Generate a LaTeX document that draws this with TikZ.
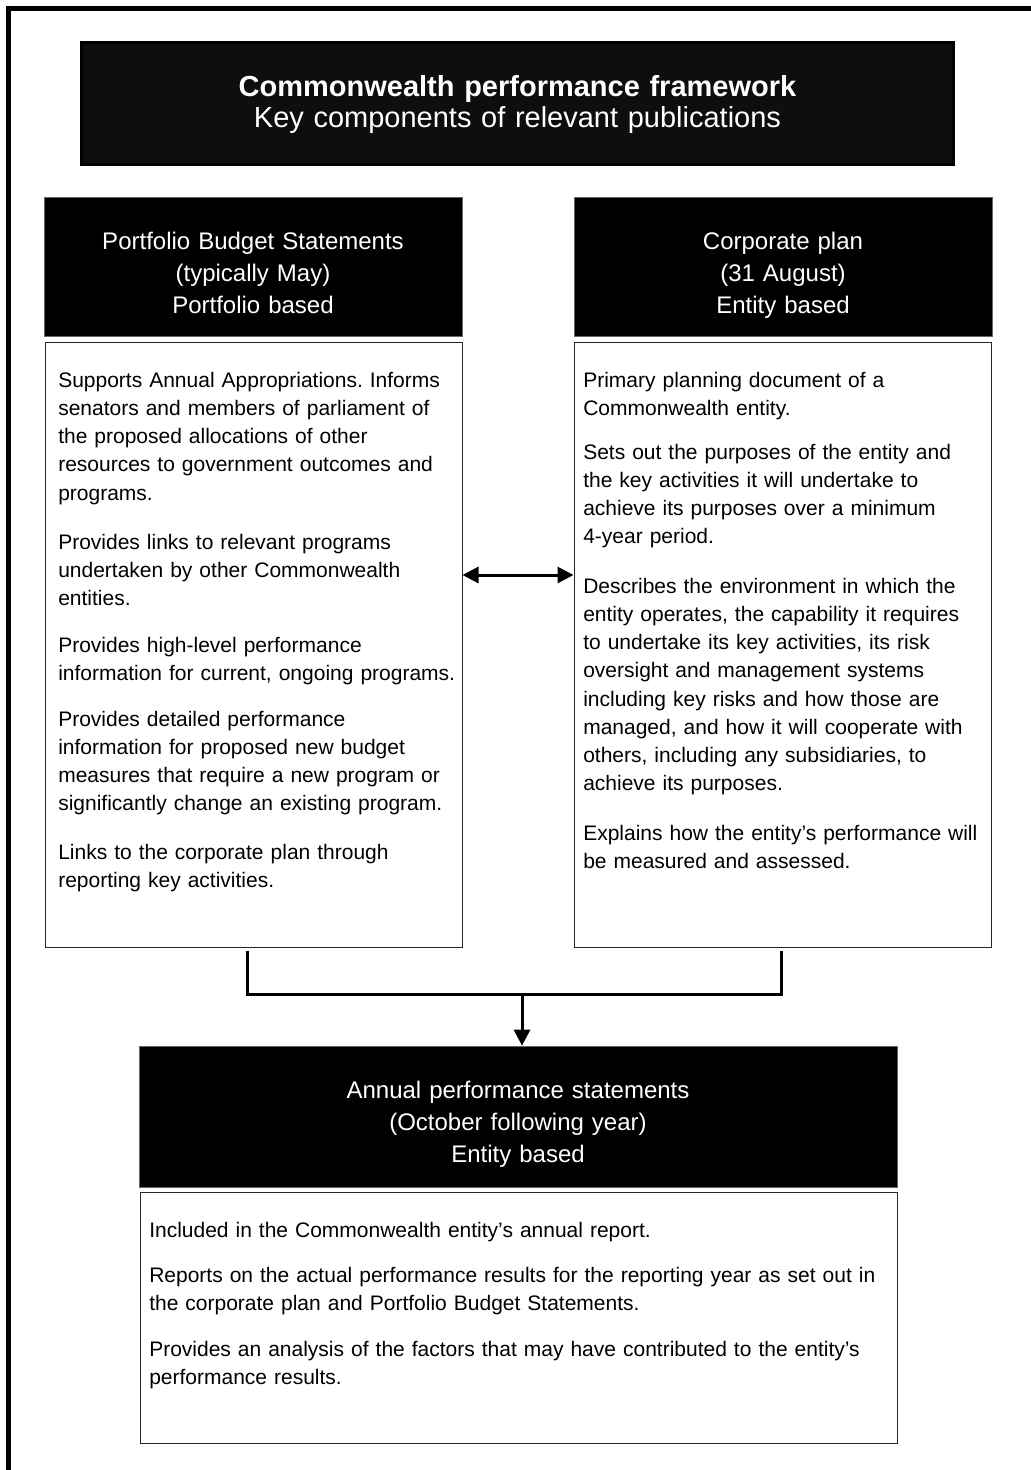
\documentclass[tikz,border=0pt]{standalone}
\usepackage{fontspec}
\setmainfont{Liberation Sans}
\frenchspacing
\usetikzlibrary{arrows.meta}
\definecolor{titlefill}{RGB}{14,14,14}
\tikzset{
  frame/.style={line width=3.5pt, black},
  hdrbox/.style={fill=black, draw=black!60, line width=0.5pt, inner sep=0pt},
  hdrtext/.style={anchor=base, text=white, inner sep=0pt, align=center, text width=420pt, font=\fontsize{18pt}{24pt}\selectfont},
  bodybox/.style={draw=black!85, line width=0.75pt, fill=white, inner sep=0pt},
  para/.style={anchor=base west, inner sep=0pt, align=left, text width=560pt, font=\fontsize{15.75pt}{21.2pt}\selectfont},
  conn/.style={line width=2.25pt, black},
  tip/.tip={Triangle[length=12pt,width=12pt]},
  arr/.style={conn, -tip},
  darr/.style={conn, tip-tip},
}
\begin{document}
\begin{tikzpicture}[x=0.75pt,y=-0.75pt]
\useasboundingbox (0,0) rectangle (1031,1470);
\fill[white] (0,0) rectangle (1031,1470);
% outer frame (partly cut)
\draw[frame] (8.5,1470) -- (8.5,8.5) -- (1031,8.5);

% title
\node[fill=titlefill, draw=black, line width=2.25pt, minimum width=654pt, minimum height=91.5pt, inner sep=0pt] (title) at (517.5,103.5) {};
\node[anchor=base, text=white, inner sep=0pt, align=center, text width=640pt, font=\fontsize{21.75pt}{24pt}\selectfont] (titletext) at (517.5,96)
  {{\bfseries Commonwealth performance framework}\\Key components of relevant publications};

% Portfolio Budget Statements
\node[hdrbox, minimum width=313.5pt, minimum height=104.25pt] (pbshead) at (253,266.5) {};
\node[hdrtext] (pbstext) at (253,249.5) {Portfolio Budget Statements\\(typically May)\\Portfolio based};
\node[bodybox, minimum width=312.75pt, minimum height=453.75pt] (pbsbody) at (253.5,644.5) {};
\node[para] (pbs1) at (58,387) {Supports Annual Appropriations. Informs\\senators and members of parliament of\\the proposed allocations of other\\resources to government outcomes and\\programs.};
\node[para] (pbs2) at (58,549) {Provides links to relevant programs\\undertaken by other Commonwealth\\entities.};
\node[para] (pbs3) at (58,652) {Provides high-level performance\\information for current, ongoing programs.};
\node[para] (pbs4) at (58,726) {Provides detailed performance\\information for proposed new budget\\measures that require a new program or\\significantly change an existing program.};
\node[para] (pbs5) at (58,859) {Links to the corporate plan through\\reporting key activities.};

% Corporate plan
\node[hdrbox, minimum width=313.5pt, minimum height=104.25pt] (cphead) at (783,266.5) {};
\node[hdrtext] (cptext) at (783,249.5) {Corporate plan\\(31 August)\\Entity based};
\node[bodybox, minimum width=312.75pt, minimum height=453.75pt] (cpbody) at (782.5,644.5) {};
\node[para] (cp1) at (583,387) {Primary planning document of a\\Commonwealth entity.};
\node[para] (cp2) at (583,459) {Sets out the purposes of the entity and\\the key activities it will undertake to\\achieve its purposes over a minimum\\4-year period.};
\node[para] (cp3) at (583,593) {Describes the environment in which the\\entity operates, the capability it requires\\to undertake its key activities, its risk\\oversight and management systems\\including key risks and how those are\\managed, and how it will cooperate with\\others, including any subsidiaries, to\\achieve its purposes.};
\node[para] (cp4) at (583,840) {Explains how the entity’s performance will\\be measured and assessed.};

% Annual performance statements
\node[hdrbox, minimum width=568.5pt, minimum height=105.75pt] (aphead) at (518,1116.5) {};
\node[hdrtext] (aptext) at (518,1098) {Annual performance statements\\(October following year)\\Entity based};
\node[bodybox, minimum width=567.75pt, minimum height=188.25pt] (apbody) at (518.5,1317.5) {};
\node[para] (ap1) at (149,1237) {Included in the Commonwealth entity’s annual report.};
\node[para] (ap2) at (149,1282) {Reports on the actual performance results for the reporting year as set out in\\the corporate plan and Portfolio Budget Statements.};
\node[para] (ap3) at (149,1356) {Provides an analysis of the factors that may have contributed to the entity’s\\performance results.};

% connectors
\coordinate (arrowy) at (0,575);
\draw[darr] (pbsbody.north east |- arrowy) -- (cpbody.north west |- arrowy);

\coordinate (bus) at (0,994);
\coordinate (pa) at ([shift={(-6.5,3)}]pbsbody.south);
\coordinate (pb) at ([shift={(-1.5,3)}]cpbody.south);
\draw[conn] (pa) -- (pa |- bus) -- (pb |- bus) -- (pb);
\coordinate (pc) at ([shift={(4,0)}]aphead.north);
\draw[arr] (pc |- bus) -- (pc);
\end{tikzpicture}
\end{document}
